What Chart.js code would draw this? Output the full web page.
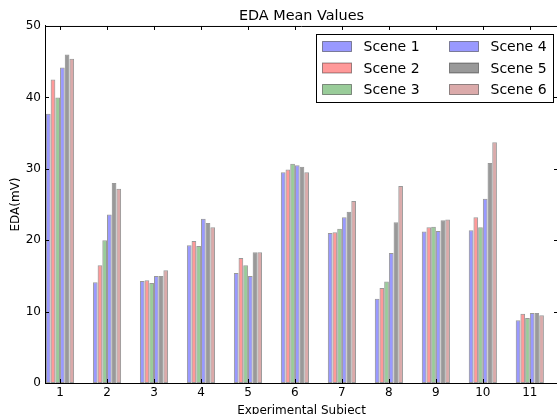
<!DOCTYPE html>
<html>
<head>
<meta charset="utf-8">
<script src="https://cdn.jsdelivr.net/npm/chart.js@4.4.1/dist/chart.umd.min.js"></script>
<style>
  html, body { margin: 0; padding: 0; background: #fff; overflow: hidden; }
  #wrap { width: 557px; height: 414px; overflow: hidden; }
</style>
</head>
<body>
<div id="wrap"><canvas id="edaChart" width="560" height="420"></canvas></div>
<script>
// Datos
const subjects = [1, 2, 3, 4, 5, 6, 7, 8, 9, 10, 11];
const sceneLabels = ['Scene 1', 'Scene 2', 'Scene 3', 'Scene 4', 'Scene 5', 'Scene 6'];
const scene1 = [37.7, 14.1, 14.3, 19.3, 15.4, 29.5, 21.0, 11.8, 21.2, 21.4, 8.8];
const scene2 = [42.5, 16.5, 14.4, 19.9, 17.5, 29.9, 21.1, 13.3, 21.8, 23.2, 9.7];
const scene3 = [40.0, 20.0, 14.0, 19.2, 16.5, 30.7, 21.6, 14.2, 21.9, 21.8, 9.1];
const scene4 = [44.2, 23.6, 15.0, 23.0, 15.0, 30.5, 23.2, 18.2, 21.3, 25.8, 9.8];
const scene5 = [46.0, 28.0, 15.0, 22.4, 18.3, 30.3, 24.0, 22.5, 22.8, 30.8, 9.8];
const scene6 = [45.4, 27.2, 15.8, 21.8, 18.3, 29.5, 25.5, 27.6, 22.9, 33.7, 9.5];
const yTicks = [0, 10, 20, 30, 40, 50];

const sceneColors = [
    'rgba(0, 0, 255, 0.4)',
    'rgba(255, 0, 0, 0.4)',
    'rgba(0, 128, 0, 0.4)',
    'rgba(0, 0, 255, 0.4)',
    'rgba(0, 0, 0, 0.4)',
    'rgba(165, 42, 42, 0.4)'
];
const edgeColor = 'rgba(0, 0, 0, 0.4)';
const FONT = 'DejaVu Sans';

const allScenes = [scene1, scene2, scene3, scene4, scene5, scene6];

const datasets = allScenes.map((values, k) => ({
    label: sceneLabels[k],
    data: values.map((v, i) => ({ x: subjects[i], y: v })),
    backgroundColor: sceneColors[k],
    borderColor: edgeColor,
    borderWidth: 1,
    borderSkipped: false,
    categoryPercentage: 0.6,
    barPercentage: 1.0
}));

// Marco, ticks hacia adentro y leyenda estilo matplotlib
const framePlugin = {
    id: 'framePlugin',
    afterDraw(chart) {
        const ctx = chart.ctx;
        const ca = chart.chartArea;
        const xs = chart.scales.x;
        const ys = chart.scales.y;
        ctx.save();
        ctx.strokeStyle = '#000';
        ctx.lineWidth = 1;
        ctx.beginPath();
        ctx.moveTo(ca.left, ca.top + 0.5);
        ctx.lineTo(ca.right, ca.top + 0.5);
        ctx.moveTo(ca.right - 0.5, ca.top);
        ctx.lineTo(ca.right - 0.5, ca.bottom);
        subjects.forEach(v => {
            const px = Math.round(xs.getPixelForValue(v)) + 0.5;
            ctx.moveTo(px, ca.bottom);
            ctx.lineTo(px, ca.bottom - 4);
            ctx.moveTo(px, ca.top);
            ctx.lineTo(px, ca.top + 4);
        });
        yTicks.forEach(v => {
            const py = Math.round(ys.getPixelForValue(v)) + 0.5;
            ctx.moveTo(ca.left, py);
            ctx.lineTo(ca.left + 4, py);
            ctx.moveTo(ca.right, py);
            ctx.lineTo(ca.right - 4, py);
        });
        ctx.stroke();

        // Leyenda en dos columnas
        const boxW = 237, boxH = 68;
        const bx = Math.round(ca.right - 5 - boxW) + 0.5;
        const by = Math.round(ca.top + 8) + 0.5;
        ctx.fillStyle = '#fff';
        ctx.fillRect(bx, by, boxW, boxH);
        ctx.strokeStyle = '#000';
        ctx.strokeRect(bx, by, boxW, boxH);
        ctx.font = '14px "' + FONT + '"';
        ctx.textBaseline = 'middle';
        ctx.textAlign = 'left';
        chart.data.datasets.forEach((ds, k) => {
            const col = Math.floor(k / 3);
            const row = k % 3;
            const px = bx + 6 + col * 127;
            const cy = by + 12 + row * 21.5;
            ctx.fillStyle = ds.backgroundColor;
            ctx.fillRect(px, cy - 5, 29, 10);
            ctx.strokeStyle = ds.borderColor;
            ctx.strokeRect(px, cy - 5, 29, 10);
            ctx.fillStyle = '#000';
            ctx.fillText(ds.label, px + 41, cy + 1);
        });
        ctx.restore();
    }
};

document.addEventListener('DOMContentLoaded', function() {
    const ctx = document.getElementById('edaChart').getContext('2d');
    new Chart(ctx, {
        type: 'bar',
        data: { datasets: datasets },
        plugins: [framePlugin],
        options: {
            responsive: false,
            animation: false,
            devicePixelRatio: 1,
            layout: { padding: { left: 0, right: 2, top: 0, bottom: 0 } },
            plugins: {
                legend: { display: false },
                tooltip: { enabled: false },
                title: {
                    display: true,
                    fullSize: false,
                    text: 'EDA Mean Values',
                    color: '#000',
                    font: { family: FONT, size: 14.4, weight: 'normal' },
                    padding: { top: 8, bottom: 0.7 }
                }
            },
            scales: {
                x: {
                    type: 'linear',
                    offset: false,
                    min: 0.68,
                    max: 11.6,
                    afterBuildTicks: (axis) => {
                        axis.ticks = subjects.map(v => ({ value: v }));
                    },
                    afterFit: (axis) => { axis.height = 37; },
                    grid: { display: false, drawTicks: false, offset: false },
                    border: { color: '#000', width: 1 },
                    ticks: {
                        color: '#000',
                        padding: 3,
                        maxRotation: 0,
                        autoSkip: false,
                        font: { family: FONT, size: 12 },
                        callback: (v) => String(v)
                    },
                    title: {
                        display: true,
                        text: 'Experimental Subject',
                        color: '#000',
                        font: { family: FONT, size: 12 },
                        padding: { top: 0, bottom: 2 }
                    }
                },
                y: {
                    min: 0,
                    max: 50,
                    afterBuildTicks: (axis) => {
                        axis.ticks = yTicks.map(v => ({ value: v }));
                    },
                    afterFit: (axis) => { axis.width = 45; },
                    grid: { display: false, drawTicks: false },
                    border: { color: '#000', width: 1 },
                    ticks: {
                        color: '#000',
                        padding: 4,
                        font: { family: FONT, size: 12 }
                    },
                    title: {
                        display: true,
                        text: 'EDA(mV)',
                        color: '#000',
                        font: { family: FONT, size: 12 },
                        padding: { top: 9, bottom: 0 }
                    }
                }
            }
        }
    });
});
</script>
</body>
</html>
